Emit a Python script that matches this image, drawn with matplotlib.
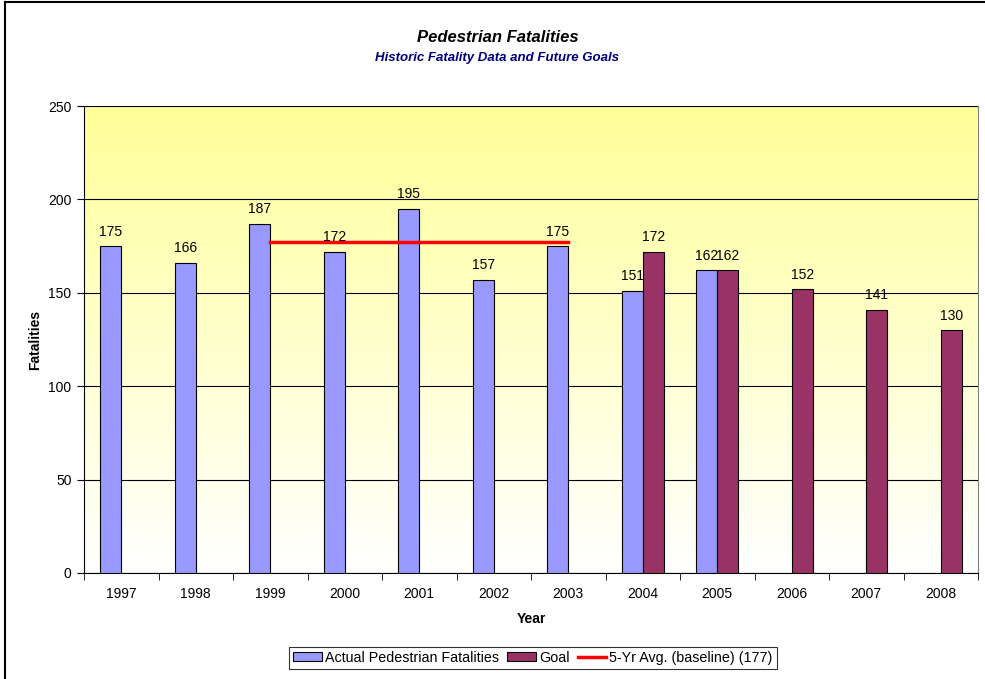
import numpy as np
import matplotlib
matplotlib.use('Agg')
import matplotlib.pyplot as plt
from matplotlib.lines import Line2D
from matplotlib.colors import LinearSegmentedColormap

plt.rcParams['font.family'] = ['Liberation Sans', 'DejaVu Sans']

years = ['1997', '1998', '1999', '2000', '2001', '2002', '2003', '2004', '2005', '2006', '2007', '2008']
actual = [175, 166, 187, 172, 195, 157, 175, 151, 162, None, None, None]
goal = [None, None, None, None, None, None, None, 172, 162, 152, 141, 130]
baseline_years = ['1999', '2000', '2001', '2002', '2003']
baseline = [177, 177, 177, 177, 177]

fig = plt.figure(figsize=(9.85, 6.79), dpi=100)
ax = fig.add_axes([84 / 985, 1 - 573 / 679, (978 - 84) / 985, (573 - 106) / 679])

# gradient background, yellow at top to white at bottom
cmap = LinearSegmentedColormap.from_list('bg', ['#FFFFFF', '#FFFF99'])
grad = np.linspace(0, 1, 256).reshape(-1, 1)
ax.imshow(grad, aspect='auto', cmap=cmap, origin='lower',
          extent=[0, 1, 0, 1], transform=ax.transAxes, zorder=0)

x = np.arange(len(years))
w = 0.28
for i in x:
    if actual[i] is not None:
        ax.bar(i - w / 2, actual[i], w, color='#9999FF', edgecolor='black', linewidth=0.8, zorder=3)
        ax.text(i - w / 2, actual[i] + 4, str(actual[i]), ha='center', va='bottom', fontsize=10, zorder=5)
    if goal[i] is not None:
        ax.bar(i + w / 2, goal[i], w, color='#993366', edgecolor='black', linewidth=0.8, zorder=3)
        ax.text(i + w / 2, goal[i] + 4, str(goal[i]), ha='center', va='bottom', fontsize=10, zorder=5)

bx = [years.index(y) for y in baseline_years]
ax.plot(bx, baseline, color='red', linewidth=2.5, zorder=4)

ax.set_xlim(-0.5, len(years) - 0.5)
ax.set_ylim(0, 250)
ax.set_yticks([0, 50, 100, 150, 200, 250])
ax.yaxis.grid(True, color='black', linewidth=0.8)
ax.set_axisbelow(False)
for gl in ax.yaxis.get_gridlines():
    gl.set_zorder(2)

ax.set_xticks(x)
ax.set_xticklabels(years)
ax.set_xticks(np.arange(-0.5, len(years)), minor=True)
ax.tick_params(axis='x', which='major', length=0, pad=10, labelsize=10)
ax.tick_params(axis='x', which='minor', length=5, direction='out', color='black')
ax.tick_params(axis='y', length=5, direction='out', labelsize=10, pad=4)

for s in ['top', 'right']:
    ax.spines[s].set_color('#808080')
    ax.spines[s].set_linewidth(0.8)
for s in ['left', 'bottom']:
    ax.spines[s].set_color('black')
    ax.spines[s].set_linewidth(0.8)

ax.set_xlabel('Year', fontsize=10, fontweight='bold')
ax.set_ylabel('Fatalities', fontsize=10, fontweight='bold')
ax.xaxis.set_label_coords(0.5, (573 - 619) / 467)
ax.yaxis.set_label_coords((35 - 84) / 894, 0.5)
ax.xaxis.label.set_va('center')
ax.yaxis.label.set_va('center')

fig.text(0.505, 1 - 38 / 679, 'Pedestrian Fatalities', ha='center', va='center',
         fontsize=12, fontweight='bold', fontstyle='italic')
fig.text(0.505, 1 - 58 / 679, 'Historic Fatality Data and Future Goals', ha='center', va='center',
         fontsize=9.5, fontweight='bold', fontstyle='italic', color='#000080')

handles = [
    plt.Rectangle((0, 0), 1, 1, facecolor='#9999FF', edgecolor='black', linewidth=0.8),
    plt.Rectangle((0, 0), 1, 1, facecolor='#993366', edgecolor='black', linewidth=0.8),
    Line2D([], [], color='red', linewidth=2.5),
]
leg = fig.legend(handles, ['Actual Pedestrian Fatalities', 'Goal', '5-Yr Avg. (baseline) (177)'],
                 loc='center', bbox_to_anchor=(533 / 985, 1 - 658 / 679), ncol=3, fontsize=10.3,
                 frameon=True, fancybox=False, edgecolor='black', handlelength=2.0, handleheight=0.6,
                 handletextpad=0.2, columnspacing=0.6, borderpad=0.3)
leg.get_frame().set_linewidth(0.8)

# chart border (top and left visible)
fig.add_artist(Line2D([5 / 985, 5 / 985], [0, 1 - 2 / 679], color='black', linewidth=1.5, transform=fig.transFigure))
fig.add_artist(Line2D([5 / 985, 1], [1 - 2 / 679, 1 - 2 / 679], color='black', linewidth=1.5, transform=fig.transFigure))

fig.savefig('out.png', dpi=100)
